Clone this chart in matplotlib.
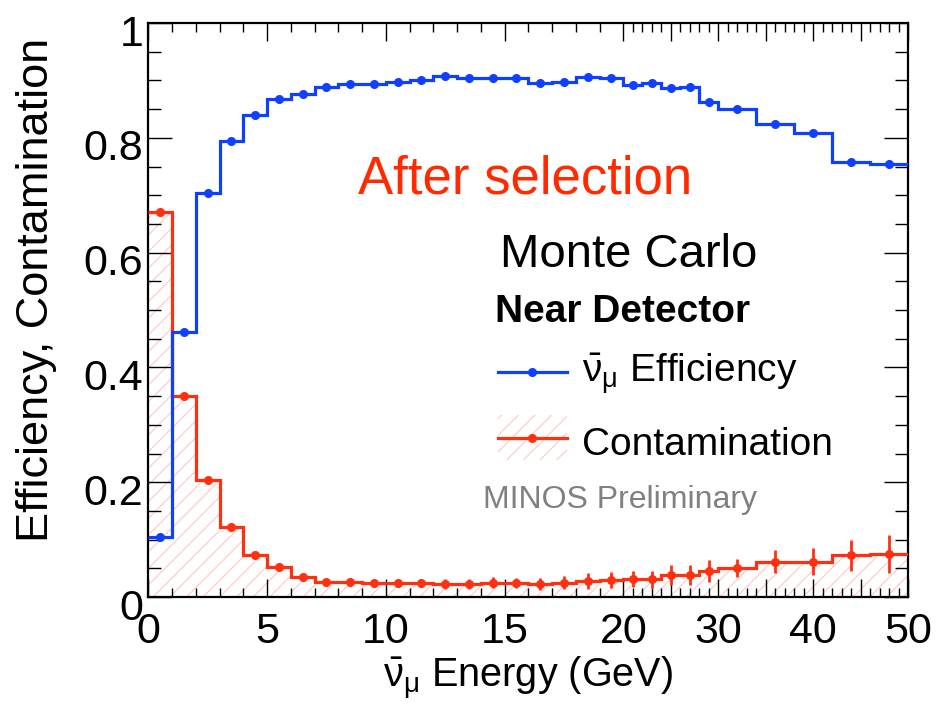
import numpy as np
import matplotlib
matplotlib.use('Agg')
import matplotlib.pyplot as plt
from matplotlib.lines import Line2D
from matplotlib.patches import Rectangle
from matplotlib.transforms import ScaledTranslation
from matplotlib.ticker import FixedLocator, FixedFormatter

# ---------------- data ----------------
bin_edges = [0, 1, 2, 3, 4, 5, 6, 7, 8, 9, 10, 11, 12, 13, 14, 15, 16, 17, 18, 19, 20,
             22, 24, 26, 28, 30, 34, 38, 42, 46, 50]
efficiency = [0.105, 0.461, 0.703, 0.795, 0.840, 0.868, 0.877, 0.889, 0.894, 0.894,
              0.897, 0.900, 0.908, 0.904, 0.904, 0.905, 0.896, 0.898, 0.906, 0.904,
              0.892, 0.896, 0.887, 0.889, 0.863, 0.851, 0.824, 0.809, 0.757, 0.754]
efficiency_err = [0.002, 0.002, 0.002, 0.002, 0.002, 0.002, 0.002, 0.002, 0.002, 0.002,
                  0.002, 0.002, 0.002, 0.002, 0.002, 0.003, 0.003, 0.003, 0.003, 0.003,
                  0.003, 0.003, 0.004, 0.004, 0.004, 0.004, 0.005, 0.005, 0.006, 0.007]
contamination = [0.671, 0.351, 0.204, 0.1225, 0.073, 0.052, 0.035, 0.027, 0.027, 0.025,
                 0.025, 0.025, 0.0226, 0.0226, 0.025, 0.024, 0.0226, 0.025, 0.028, 0.0296,
                 0.031, 0.031, 0.038, 0.038, 0.046, 0.050, 0.0615, 0.0615, 0.073, 0.075]
contamination_err = [0.004, 0.004, 0.004, 0.004, 0.004, 0.004, 0.005, 0.005, 0.006, 0.006,
                     0.007, 0.007, 0.008, 0.008, 0.009, 0.009, 0.011, 0.0116, 0.0135, 0.0135,
                     0.014, 0.0145, 0.017, 0.017, 0.019, 0.016, 0.020, 0.023, 0.027, 0.033]
x_major = [0, 5, 10, 15, 20, 25, 30, 35, 40, 45, 50]
x_labels = ['0', '5', '10', '15', '20', '', '30', '', '40', '', '50']
y_major = [0, 0.2, 0.4, 0.6, 0.8, 1.0]
y_labels = ['0', '0.2', '0.4', '0.6', '0.8', '1']

# ---------------- style ----------------
plt.rcParams['font.family'] = ['Liberation Sans', 'DejaVu Sans']
plt.rcParams['mathtext.fontset'] = 'custom'
plt.rcParams['mathtext.rm'] = 'Liberation Sans'
plt.rcParams['mathtext.it'] = 'Liberation Sans:italic'
plt.rcParams['hatch.linewidth'] = 0.8

BLUE = '#1040ff'
RED = '#ff3010'
RED_TXT = '#ff2a00'
PINK = '#ffc6c6'

W, H = 949, 705
fig = plt.figure(figsize=(W / 100, H / 100), dpi=100)
ax = fig.add_axes([148.3 / W, 1 - 597 / H, 760 / W, 574 / H])


def P(x, y):
    return (x / W, 1 - y / H)


K = 0.4


def fwd(x):
    x = np.asarray(x, float)
    return np.where(x <= 20, x, 20 + (x - 20) * K)


def inv(y):
    y = np.asarray(y, float)
    return np.where(y <= 20, y, 20 + (y - 20) / K)


ax.set_xscale('function', functions=(fwd, inv))
ax.set_xlim(0, 50)
ax.set_ylim(0, 1)

edges = np.array(bin_edges, float)
centers = 0.5 * (edges[:-1] + edges[1:])

# hatched area under contamination
ax.stairs(contamination, edges, fill=True, hatch='//', facecolor='none',
          edgecolor=PINK, linewidth=0, zorder=1)
ax.stairs(contamination, edges, color=RED, linewidth=2.3, baseline=None, zorder=3)
ax.errorbar(centers, contamination, yerr=contamination_err, fmt='o', color=RED,
            ms=5.5, elinewidth=2.0, capsize=0, zorder=4)

ax.stairs(efficiency, edges, color=BLUE, linewidth=2.3, baseline=None, zorder=3)
ax.errorbar(centers, efficiency, yerr=efficiency_err, fmt='o', color=BLUE,
            ms=5.5, elinewidth=2.0, capsize=0, zorder=4)

# ticks
ax.xaxis.set_major_locator(FixedLocator(x_major))
ax.xaxis.set_major_formatter(FixedFormatter(x_labels))
ax.xaxis.set_minor_locator(FixedLocator(list(range(0, 51))))
ax.yaxis.set_major_locator(FixedLocator(y_major))
ax.yaxis.set_major_formatter(FixedFormatter(y_labels))
ax.yaxis.set_minor_locator(FixedLocator([i * 0.05 for i in range(21)]))
ax.tick_params(which='both', direction='in', top=True, right=True, width=1.0, colors='black')
ax.tick_params(axis='x', which='major', length=13, labelsize=31, pad=11)
ax.tick_params(axis='x', which='minor', length=6.5)
ax.tick_params(axis='y', which='major', length=17, labelsize=31, pad=3.5)
ax.tick_params(axis='y', which='minor', length=9.5)
for lab in ax.get_yticklabels():
    lab.set_transform(lab.get_transform() + ScaledTranslation(0, -7 / 100, fig.dpi_scale_trans))
for sp in ax.spines.values():
    sp.set_linewidth(1.6)

# axis titles
fig.text(*P(37, 290), 'Efficiency, Contamination', rotation=90, ha='center', va='center',
         fontsize=32.5)
fig.text(*P(528, 679), r'$\bar{\mathrm{\nu}}_{\mathrm{\mu}}$ Energy (GeV)', ha='center',
         va='center', fontsize=28.5)

# annotations
fig.text(*P(358, 193), 'After selection', color=RED_TXT, fontsize=38, ha='left', va='baseline')
fig.text(*P(500, 267), 'Monte Carlo', color='black', fontsize=34, ha='left', va='baseline')
fig.text(*P(495, 322), 'Near Detector', color='black', fontsize=28, fontweight='bold',
         ha='left', va='baseline')
fig.text(*P(483, 508), 'MINOS Preliminary', color='#808080', fontsize=23, ha='left',
         va='baseline')

# legend
tf = fig.transFigure
fig.add_artist(Rectangle(P(498, 460), 69 / W, 45 / H, transform=tf, hatch='//',
                         facecolor='none', edgecolor=PINK, linewidth=0))
for yy, col in [(372, BLUE), (438, RED)]:
    fig.add_artist(Line2D([498 / W, 567 / W], [1 - yy / H] * 2, transform=tf, color=col,
                          linewidth=2.3))
    fig.add_artist(Line2D([532 / W], [1 - yy / H], transform=tf, color=col, marker='o',
                          ms=5.5))
fig.text(*P(582, 383), r'$\bar{\mathrm{\nu}}_{\mathrm{\mu}}$ Efficiency', fontsize=28,
         ha='left', va='baseline')
fig.text(*P(582, 455), 'Contamination', fontsize=28, ha='left', va='baseline')

fig.savefig('out.png', dpi=100)
